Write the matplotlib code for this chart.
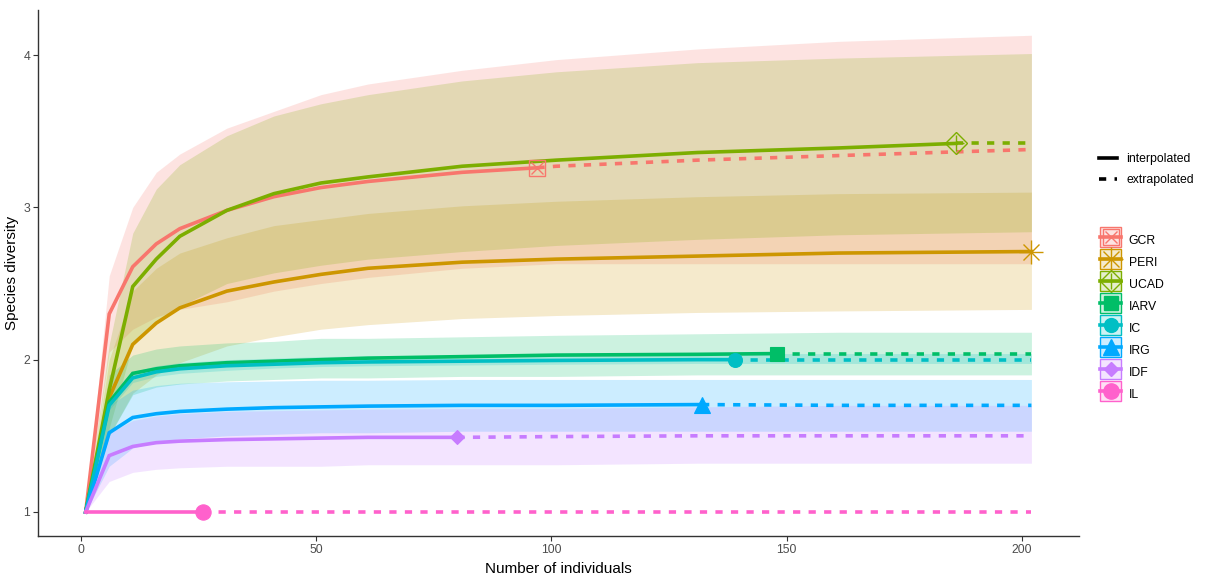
import matplotlib
matplotlib.use("Agg")
import matplotlib.pyplot as plt
from matplotlib.lines import Line2D
from matplotlib.patches import Patch, Rectangle
from matplotlib.legend_handler import HandlerPatch
from matplotlib.colors import to_rgba

plt.rcParams['font.family'] = ['Liberation Sans', 'DejaVu Sans']

# ---- data -------------------------------------------------------------
sites = ["GCR", "PERI", "UCAD", "IARV", "IC", "IRG", "IDF", "IL"]
colors = ["#F8766D", "#CD9600", "#7CAE00", "#00BE67",
          "#00BFC4", "#00A9FF", "#C77CFF", "#FF61CC"]

# sample sizes (number of individuals) at which each curve is evaluated
m = [1, 6, 11, 16, 21, 31, 41, 51, 61, 81, 101, 131, 161, 202]

# observed sample size and diversity of each site
obs_n = [97, 202, 186, 148, 139, 132, 80, 26]
obs_qd = [3.26, 2.71, 3.42, 2.04, 2.00, 1.705, 1.49, 1.00]

gcr_qd = [1.00, 2.30, 2.61, 2.76, 2.86, 2.98, 3.07, 3.13, 3.17, 3.23, 3.27, 3.31, 3.34, 3.38]
gcr_lo = [1.00, 2.05, 2.20, 2.28, 2.33, 2.38, 2.45, 2.50, 2.54, 2.60, 2.63, 2.63, 2.63, 2.63]
gcr_hi = [1.00, 2.55, 3.00, 3.23, 3.35, 3.52, 3.63, 3.74, 3.81, 3.90, 3.97, 4.04, 4.09, 4.13]

peri_qd = [1.00, 1.75, 2.10, 2.24, 2.34, 2.45, 2.51, 2.56, 2.60, 2.64, 2.66, 2.68, 2.70, 2.71]
peri_lo = [1.00, 1.50, 1.78, 1.90, 1.98, 2.09, 2.15, 2.20, 2.23, 2.27, 2.29, 2.31, 2.32, 2.33]
peri_hi = [1.00, 2.00, 2.45, 2.60, 2.70, 2.80, 2.88, 2.92, 2.96, 3.01, 3.04, 3.07, 3.09, 3.10]

ucad_qd = [1.00, 1.80, 2.48, 2.66, 2.81, 2.98, 3.09, 3.16, 3.20, 3.27, 3.31, 3.36, 3.39, 3.42]
ucad_lo = [1.00, 1.55, 2.10, 2.25, 2.35, 2.50, 2.57, 2.62, 2.66, 2.71, 2.75, 2.79, 2.82, 2.84]
ucad_hi = [1.00, 2.10, 2.83, 3.12, 3.28, 3.47, 3.60, 3.68, 3.74, 3.83, 3.89, 3.95, 3.98, 4.01]

iarv_qd = [1.00, 1.72, 1.91, 1.94, 1.96, 1.98, 1.99, 2.00, 2.01, 2.02, 2.03, 2.035, 2.04, 2.04]
iarv_lo = [1.00, 1.50, 1.77, 1.82, 1.84, 1.86, 1.87, 1.88, 1.88, 1.89, 1.89, 1.90, 1.90, 1.90]
iarv_hi = [1.00, 1.90, 2.03, 2.07, 2.09, 2.11, 2.12, 2.14, 2.14, 2.15, 2.16, 2.17, 2.18, 2.18]

ic_qd = [1.00, 1.70, 1.88, 1.92, 1.94, 1.96, 1.97, 1.98, 1.985, 1.99, 1.995, 2.00, 2.00, 2.00]
ic_lo = [1.00, 1.67, 1.85, 1.89, 1.91, 1.93, 1.945, 1.955, 1.96, 1.965, 1.97, 1.975, 1.975, 1.975]
ic_hi = [1.00, 1.74, 1.92, 1.96, 1.98, 2.00, 2.01, 2.02, 2.025, 2.03, 2.035, 2.04, 2.04, 2.04]

irg_qd = [1.00, 1.52, 1.62, 1.645, 1.66, 1.675, 1.685, 1.69, 1.695, 1.70, 1.70, 1.705, 1.70, 1.70]
irg_lo = [1.00, 1.30, 1.42, 1.46, 1.48, 1.50, 1.51, 1.52, 1.52, 1.53, 1.53, 1.53, 1.53, 1.53]
irg_hi = [1.00, 1.70, 1.80, 1.83, 1.845, 1.855, 1.86, 1.865, 1.865, 1.87, 1.87, 1.87, 1.87, 1.87]

idf_qd = [1.00, 1.37, 1.43, 1.455, 1.465, 1.475, 1.48, 1.485, 1.49, 1.49, 1.495, 1.50, 1.50, 1.50]
idf_lo = [1.00, 1.20, 1.26, 1.28, 1.29, 1.30, 1.30, 1.30, 1.31, 1.31, 1.31, 1.32, 1.32, 1.32]
idf_hi = [1.00, 1.52, 1.60, 1.63, 1.645, 1.66, 1.665, 1.67, 1.675, 1.68, 1.68, 1.69, 1.70, 1.70]

il_qd = [1.00, 1.00, 1.00, 1.00, 1.00, 1.00, 1.00, 1.00, 1.00, 1.00, 1.00, 1.00, 1.00, 1.00]
il_lo = [1.00, 1.00, 1.00, 1.00, 1.00, 1.00, 1.00, 1.00, 1.00, 1.00, 1.00, 1.00, 1.00, 1.00]
il_hi = [1.00, 1.00, 1.00, 1.00, 1.00, 1.00, 1.00, 1.00, 1.00, 1.00, 1.00, 1.00, 1.00, 1.00]

qd = [gcr_qd, peri_qd, ucad_qd, iarv_qd, ic_qd, irg_qd, idf_qd, il_qd]
lo = [gcr_lo, peri_lo, ucad_lo, iarv_lo, ic_lo, irg_lo, idf_lo, il_lo]
hi = [gcr_hi, peri_hi, ucad_hi, iarv_hi, ic_hi, irg_hi, idf_hi, il_hi]

# point shapes: (main marker, filled?, size, overlay marker, overlay size)
shapes = [("s", False, 12, "x", 8.6),
          ("+", False, 17, "x", 12.2),
          ("D", False, 11, "+", 11),
          ("s", True, 10, None, 0),
          ("o", True, 10, None, 0),
          ("^", True, 12, None, 0),
          ("D", True, 7, None, 0),
          ("o", True, 11, None, 0)]

LW = 2.6
DASH = (2.0, 2.3)

# ---- figure -----------------------------------------------------------
fig = plt.figure(figsize=(12.07, 5.76), dpi=100)
ax = fig.add_axes([38.4 / 1207, 40.2 / 576, (1078.7 - 38.4) / 1207, (535.8 - 9.9) / 576])

for i, name in enumerate(sites):
    c = colors[i]
    if hi[i] != lo[i]:
        ax.fill_between(m, lo[i], hi[i], color=c, alpha=0.2, linewidth=0, zorder=1)

for i, name in enumerate(sites):
    c = colors[i]
    n, v = obs_n[i], obs_qd[i]
    xs_i = [x for x in m if x < n] + [n]
    ys_i = [y for x, y in zip(m, qd[i]) if x < n] + [v]
    ax.plot(xs_i, ys_i, color=c, lw=LW, solid_joinstyle="miter", zorder=3)
    xs_e = [n] + [x for x in m if x > n]
    ys_e = [v] + [y for x, y in zip(m, qd[i]) if x > n]
    if len(xs_e) > 1:
        ax.plot(xs_e, ys_e, color=c, lw=LW, ls=(0, DASH), zorder=3)

for i, name in enumerate(sites):
    c = colors[i]
    mk, filled, ms, over, ms2 = shapes[i]
    if filled:
        ax.plot([obs_n[i]], [obs_qd[i]], marker=mk, ms=ms, color=c,
                mec=c, mew=0.8, ls="none", zorder=5)
    else:
        ax.plot([obs_n[i]], [obs_qd[i]], marker=mk, ms=ms, mfc="none",
                mec=c, mew=1.0, ls="none", zorder=5)
        ax.plot([obs_n[i]], [obs_qd[i]], marker=over, ms=ms2,
                mfc="none", mec=c, mew=1.0, ls="none", zorder=5)

ax.set_xlim(-9.05, 212.05)
ax.set_ylim(0.8435, 4.2965)
ax.set_xticks([0, 50, 100, 150, 200])
ax.set_yticks([1, 2, 3, 4])
for s in ("top", "right"):
    ax.spines[s].set_visible(False)
for s in ("left", "bottom"):
    ax.spines[s].set_linewidth(1.0)
    ax.spines[s].set_color("#333333")
ax.tick_params(axis="both", length=3.5, width=0.8, color="#333333",
               labelsize=8.8, labelcolor="#4D4D4D", pad=2.5)
ax.set_xlabel("Number of individuals", fontsize=11, color="black", labelpad=4)
ax.set_ylabel("Species diversity", fontsize=11, color="black", labelpad=3)

# ---- legends ----------------------------------------------------------
lt_handles = [Line2D([], [], color="black", lw=LW),
              Line2D([], [], color="black", lw=LW, ls=(0, DASH))]
leg1 = fig.legend(lt_handles, ["interpolated", "extrapolated"],
                  loc="upper left", bbox_to_anchor=(1099 / 1207, 1 - 153 / 576),
                  frameon=False, fontsize=8.8, handlelength=1.45,
                  handletextpad=0.8, labelspacing=0.74, borderpad=0,
                  borderaxespad=0)


def key_box(legend, orig_handle, xdescent, ydescent, width, height, fontsize):
    # key rectangle centred on the key's line and point
    return Rectangle((-xdescent, -ydescent / 2), width, height)


site_handles = []
for i, name in enumerate(sites):
    c = colors[i]
    mk, filled, ms, over, ms2 = shapes[i]
    box = Patch(facecolor=to_rgba(c, 0.2), edgecolor=c, linewidth=1.0)
    ln = Line2D([], [], color=c, lw=LW)
    if filled:
        pt = Line2D([], [], marker=mk, ms=ms, color=c, mec=c, ls="none")
        site_handles.append((box, ln, pt))
    else:
        pt = Line2D([], [], marker=mk, ms=ms, mfc="none", mec=c, mew=1.0, ls="none")
        pt2 = Line2D([], [], marker=over, ms=ms2, mfc="none", mec=c, mew=1.0, ls="none")
        site_handles.append((box, ln, pt, pt2))

leg2 = fig.legend(site_handles, sites, loc="upper left",
                  bbox_to_anchor=(1100 / 1207, 1 - 230 / 576),
                  frameon=False, fontsize=8.8, handlelength=1.75,
                  handleheight=2.14, handletextpad=0.6, labelspacing=0.164,
                  borderpad=0, borderaxespad=0,
                  handler_map={Patch: HandlerPatch(patch_func=key_box)})

fig.savefig("out.png", dpi=100)
